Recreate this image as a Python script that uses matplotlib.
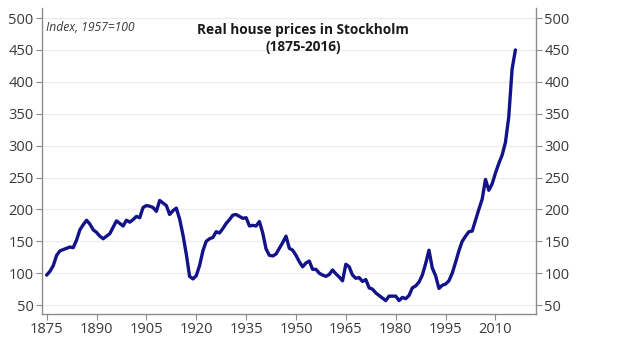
# Real house prices in Stockholm, 1875-2016 (index, 1957=100)
import numpy as np
import matplotlib
matplotlib.use('Agg')
import matplotlib.pyplot as plt

plt.rcParams['font.family'] = ['Open Sans', 'DejaVu Sans']

# Data (yearly values)
years = list(range(1875, 2017))
index_values = [
    97, 103, 112, 128, 135, 137, 139, 141, 140, 152,          # 1875-1884
    168, 176, 183, 177, 168, 164, 158, 154, 158, 162,         # 1885-1894
    172, 182, 178, 174, 183, 180, 184, 189, 187, 203,         # 1895-1904
    206, 205, 203, 197, 214, 210, 206, 192, 198, 202,         # 1905-1914
    185, 160, 130, 95, 91, 96, 112, 135, 150, 154,            # 1915-1924
    156, 165, 163, 170, 178, 184, 191, 192, 189, 186,         # 1925-1934
    187, 174, 175, 174, 181, 163, 138, 128, 127, 130,         # 1935-1944
    139, 148, 158, 139, 136, 128, 118, 110, 116, 119,         # 1945-1954
    106, 106, 100, 97, 95, 98, 105, 99, 94, 88,               # 1955-1964
    114, 110, 97, 92, 93, 87, 90, 77, 75, 69,                 # 1965-1974
    65, 61, 57, 64, 64, 64, 57, 62, 60, 65,                   # 1975-1984
    77, 80, 86, 97, 115, 136, 108, 96, 76, 81,                # 1985-1994
    83, 88, 100, 117, 135, 150, 158, 165, 166, 183,           # 1995-2004
    200, 216, 247, 230, 240, 257, 272, 285, 305, 345,         # 2005-2014
    420, 450,                                                 # 2015-2016
]
x_ticks = [1875, 1890, 1905, 1920, 1935, 1950, 1965, 1980, 1995, 2010]
y_ticks = [50, 100, 150, 200, 250, 300, 350, 400, 450, 500]

fig = plt.figure(figsize=(6.24, 3.42), dpi=100)
ax = fig.add_axes([0.0673, 0.0819, 0.7917, 0.8951])

ax.plot(years, index_values, color='#12128a', linewidth=2.4,
        solid_joinstyle='round', solid_capstyle='round', zorder=3)

ax.set_xlim(1873.6, 2022.2)
ax.set_ylim(36, 516)
ax.set_xticks(x_ticks)
ax.set_yticks(y_ticks)
ax.grid(axis='y', color='#ececec', linewidth=0.9, zorder=0)

spine_col = '#8c8c8c'
ax.spines['top'].set_visible(False)
for side in ['left', 'right', 'bottom']:
    ax.spines[side].set_color(spine_col)
    ax.spines[side].set_linewidth(1.0)

ax.tick_params(axis='both', colors=spine_col, labelcolor='#3a3a3a',
               labelsize=10.5, length=4, width=0.8, pad=2)
ax.tick_params(axis='y', left=True, right=True, labelleft=True, labelright=True)

ax.text(0.008, 0.937, 'Index, 1957=100', transform=ax.transAxes,
        fontsize=8.7, style='italic', color='#3a3a3a', ha='left', va='center')
ax.text(0.529, 0.899, 'Real house prices in Stockholm\n(1875-2016)',
        transform=ax.transAxes, fontsize=9.8, fontweight='bold',
        color='#1a1a1a', ha='center', va='center', linespacing=1.3)

fig.savefig('out.png', dpi=100)
